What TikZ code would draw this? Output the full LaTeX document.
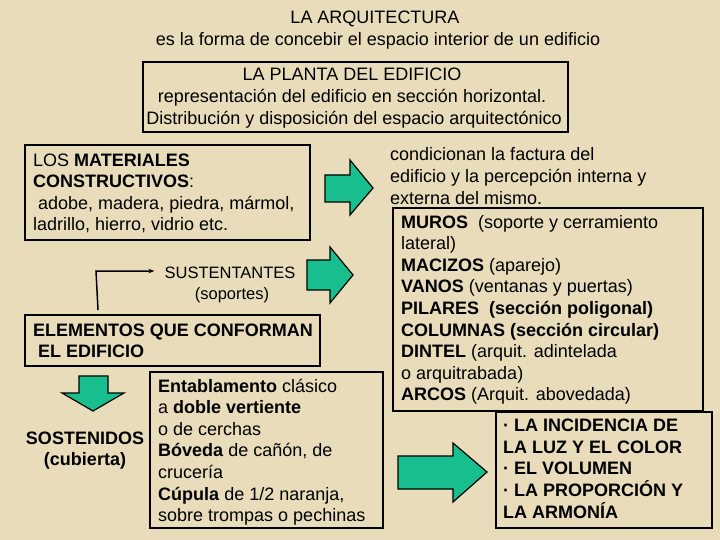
\documentclass[tikz,border=0pt]{standalone}
\usepackage{fontspec}
\usetikzlibrary{arrows.meta}
\setmainfont{Liberation Sans}
\begin{document}
\begin{tikzpicture}[x=1pt,y=-1pt,
  txt/.style={inner sep=0pt,font=\fontsize{18}{21.6}\selectfont,align=left,anchor=base west},
  ctxt/.style={inner sep=0pt,font=\fontsize{18}{21.6}\selectfont,align=center,anchor=base},
  box/.style={draw=black,line width=2.2pt},
  garrow/.style={draw=black,line width=1.2pt,line join=miter}]
\definecolor{bg}{RGB}{232,220,186}
\definecolor{arr}{RGB}{24,190,142}
\fill[bg] (0,0) rectangle (720,540);
\useasboundingbox (0,0) rectangle (720,540);
% title
\node[ctxt] (t1) at (375,24) {LA ARQUITECTURA};
\node[ctxt] (t2) at (378,46) {es la forma de concebir el espacio interior de un edificio};
% planta
\draw[box] (143,62) rectangle (568,132);
\node[ctxt] (p1) at (352,81) {LA PLANTA DEL EDIFICIO};
\node[ctxt] (p2) at (352,103) {representación del edificio en sección horizontal.};
\node[ctxt] (p3) at (354,125) {Distribución y disposición del espacio arquitectónico};
% materiales
\draw[box] (25,145) rectangle (310,240);
\node[txt] (m) at (33,230.8) {LOS \textbf{MATERIALES}\\\textbf{CONSTRUCTIVOS}:\\\ adobe, madera, piedra, mármol,\\ladrillo, hierro, vidrio etc.};
% arrow 1
\draw[garrow,fill=arr] (325,175) -- (350,175) -- (350,160) -- (373,188) -- (350,215) -- (350,202) -- (325,202) -- cycle;
% arrow 2
\draw[garrow,fill=arr] (307,260) -- (330,260) -- (330,247) -- (353,275) -- (330,303) -- (330,290) -- (307,290) -- cycle;
% sustentantes
\node[ctxt,font=\fontsize{16.5}{20}\selectfont] (s1) at (230,278) {SUSTENTANTES};
\node[ctxt,font=\fontsize{16.5}{20}\selectfont] (s2) at (232,299) {(soportes)};
\coordinate (e0) at (98,310);
\coordinate (e1) at (96,271);
\draw[line width=1.5pt,-{Stealth[length=6pt]}] (e0) -- (e1) -- ([xshift=-10pt]s1.west |- e1);
% elementos
\draw[box] (25,315) rectangle (320,366);
\node[txt] (el) at (33,357.6) {\textbf{ELEMENTOS QUE CONFORMAN}\\\ \textbf{EL EDIFICIO}};
% down arrow
\draw[garrow,fill=arr] (79,376) -- (108,376) -- (108,393) -- (124,393) -- (93,411) -- (62,393) -- (79,393) -- cycle;
\node[ctxt] (so) at (85,465.6) {\textbf{SOSTENIDOS}\\\textbf{(cubierta)}};
% entablamento
\draw[box] (150,372) rectangle (383,528);
\node[txt] (en) at (158,521.6) {\textbf{Entablamento} clásico\\a \textbf{doble vertiente}\\o de cerchas\\\textbf{Bóveda} de cañón, de\\crucería\\\textbf{Cúpula} de 1/2 naranja,\\sobre trompas o pechinas};
% condicionan
\node[txt] (c) at (390,204.2) {condicionan la factura del\\edificio y la percepción interna y\\externa del mismo.};
% muros
\draw[box] (393,208) rectangle (703,411);
\node[txt] (mu) at (401,400.8) {\textbf{MUROS}\ \ (soporte y cerramiento\\lateral)\\\textbf{MACIZOS} (aparejo)\\\textbf{VANOS} (ventanas y puertas)\\\textbf{PILARES\ \ (sección poligonal)}\\\textbf{COLUMNAS (sección circular)}\\\textbf{DINTEL} (arquit. adintelada\\o arquitrabada)\\\textbf{ARCOS} (Arquit. abovedada)};
% arrow 3
\draw[garrow,fill=arr] (398,456) -- (453,456) -- (453,443) -- (487,472) -- (453,502) -- (453,489) -- (398,489) -- cycle;
% bottom box
\draw[box] (496,412) rectangle (712,528);
\node[txt] (lz) at (503,518) {\textbf{· LA INCIDENCIA DE}\\\textbf{LA LUZ Y EL COLOR}\\\textbf{· EL VOLUMEN}\\\textbf{· LA PROPORCIÓN Y}\\\textbf{LA ARMONÍA}};
\end{tikzpicture}
\end{document}
